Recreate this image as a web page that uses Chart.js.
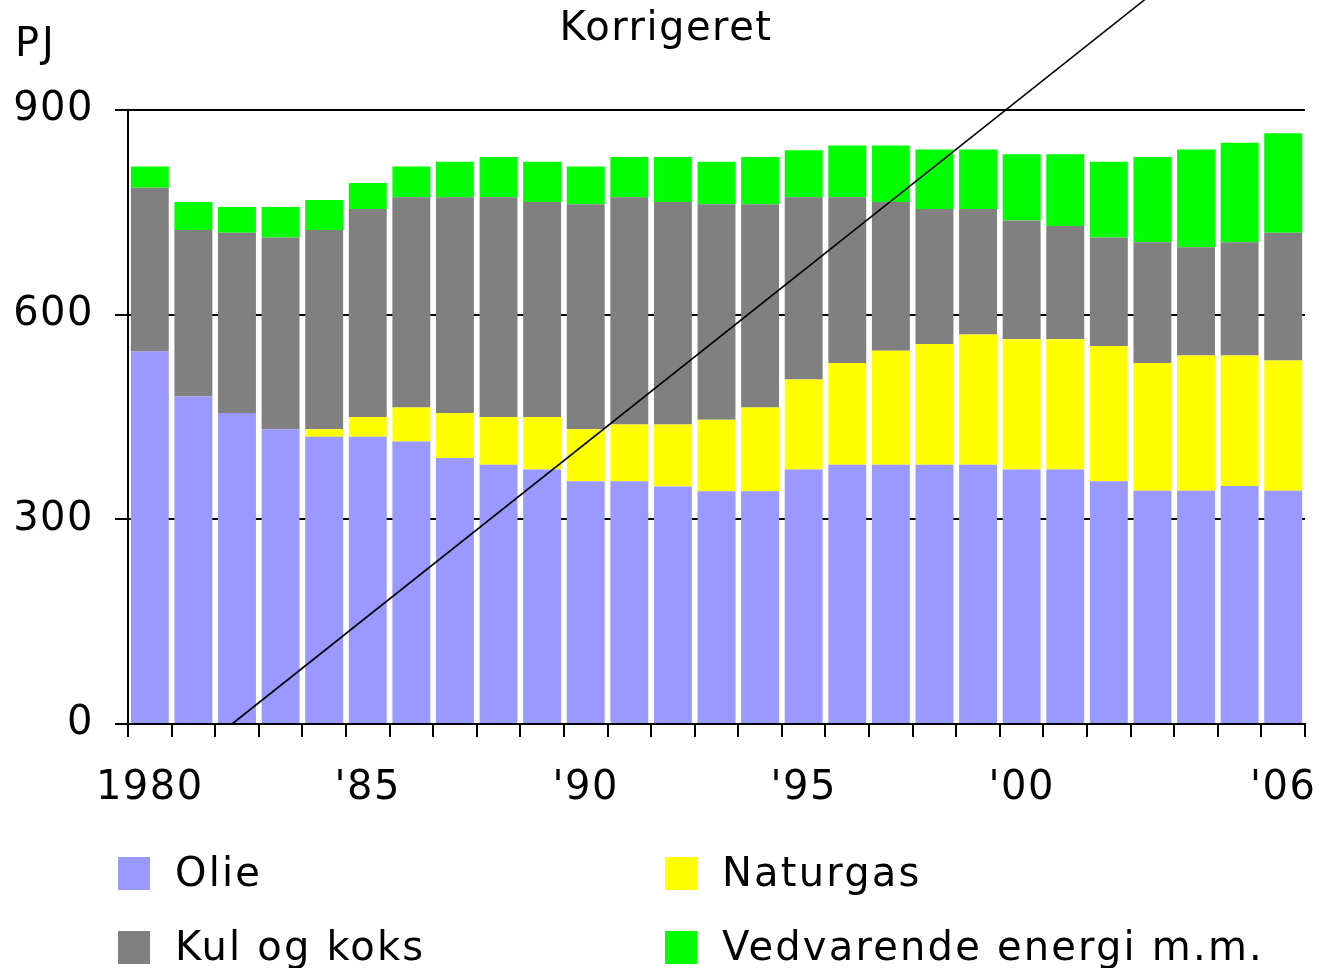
<!DOCTYPE html>
<html>
<head>
<meta charset="utf-8">
<script src="https://cdn.jsdelivr.net/npm/chart.js@4/dist/chart.umd.min.js"></script>
<style>
  html, body { margin: 0; padding: 0; background: #fff; }
  #wrap { position: relative; width: 1321px; height: 968px; overflow: hidden; }
  #c { position: absolute; left: 0; top: 0; }
  .txt { position: absolute; font-family: "DejaVu Sans", sans-serif; font-size: 40px; line-height: 40px; letter-spacing: 1.5px; color: #000; white-space: nowrap; }
  .lg { letter-spacing: 2.2px; }
  .box { position: absolute; width: 32px; height: 33px; }
</style>
</head>
<body>
<div id="wrap">
  <canvas id="c" width="1321" height="968"></canvas>
  <div class="txt" style="left:15px; top:22px; letter-spacing:3px;">PJ</div>
  <div id="legend"></div>
</div>
<script>
// ---- data ----
const years = [1980,1981,1982,1983,1984,1985,1986,1987,1988,1989,1990,1991,1992,1993,1994,1995,1996,1997,1998,1999,2000,2001,2002,2003,2004,2005,2006];
const xTickLabels = ['1980','','','','',"'85",'','','','',"'90",'','','','',"'95",'','','','',"'00",'','','','','',"'06"];
const yTicks = [0, 300, 600, 900];

const olie      = [546,480,456,432,421,421,414,390,380,373,356,356,348,341,341,373,380,380,380,380,373,373,356,342,342,349,342];
const naturgas  = [0,0,0,0,11,29,50,66,70,77,76,83,91,105,123,132,149,167,177,191,191,191,198,187,198,191,191];
const kulOgKoks = [240,244,264,281,292,305,308,316,322,315,330,333,326,316,298,267,243,218,198,184,174,166,159,177,159,166,187];
const vedvarende= [31,41,38,45,44,38,45,52,59,59,55,59,66,62,69,69,76,83,87,87,97,105,111,125,143,146,146];

// diagonal line drawn across the chart
const lineYears  = [1981.885, 2002.83];
const lineValues = [0, 1062];

const seriesNames  = ['Olie','Naturgas','Kul og koks','Vedvarende energi m.m.'];
const seriesColors = ['#9999ff','#ffff00','#808080','#00ff00'];
const seriesData   = [olie, naturgas, kulOgKoks, vedvarende];

// ---- legend (HTML) ----
const legendPos = [
  {name:'Olie', color:'#9999ff', left:118, top:852},
  {name:'Kul og koks', color:'#808080', left:118, top:926},
  {name:'Naturgas', color:'#ffff00', left:665, top:852},
  {name:'Vedvarende energi m.m.', color:'#00ff00', left:665, top:926}
];
const lg = document.getElementById('legend');
legendPos.forEach(it => {
  const b = document.createElement('div');
  b.className = 'box';
  b.style.left = it.left + 'px';
  b.style.top = (it.top + 5) + 'px';
  b.style.background = it.color;
  lg.appendChild(b);
  const t = document.createElement('div');
  t.className = 'txt lg';
  t.style.left = (it.left + 57) + 'px';
  t.style.top = it.top + 'px';
  t.textContent = it.name;
  lg.appendChild(t);
});

// ---- chart ----
const FONT = {family: '"DejaVu Sans", sans-serif', size: 40, weight: 'normal', lineHeight: 1.2};

const datasets = seriesData.map((d, i) => ({
  type: 'bar',
  label: seriesNames[i],
  data: d,
  backgroundColor: seriesColors[i],
  borderWidth: 0,
  barPercentage: 0.87,
  categoryPercentage: 1.0,
  grouped: false,
  stack: 'energy',
  xAxisID: 'x',
  yAxisID: 'y',
  order: 2
}));
datasets.push({
  type: 'scatter',
  label: 'line',
  data: lineYears.map((x, i) => ({x: x, y: lineValues[i]})),
  showLine: true,
  borderColor: '#000',
  borderWidth: 1.6,
  pointRadius: 0,
  clip: false,
  xAxisID: 'x2',
  yAxisID: 'y',
  order: 1
});

const letterSpacingPlugin = {
  id: 'ls',
  afterLayout(chart) {
    const t = chart.titleBlock;
    if (t) { t.left += 6; t.right += 6; }
  },
  beforeDraw(chart) { try { chart.ctx.letterSpacing = '1.5px'; } catch (e) {} }
};

new Chart(document.getElementById('c'), {
  type: 'bar',
  data: { labels: years.map(String), datasets: datasets },
  options: {
    responsive: false,
    animation: false,
    devicePixelRatio: 1,
    layout: { padding: { left: 15, right: 16, top: 0, bottom: 127 } },
    plugins: {
      legend: { display: false },
      tooltip: { enabled: false },
      title: {
        display: true,
        text: 'Korrigeret',
        color: '#000',
        font: FONT,
        padding: { top: 6, bottom: 56 }
      }
    },
    scales: {
      x: {
        type: 'category',
        stacked: true,
        offset: true,
        afterFit: (s) => { s.paddingLeft = 0; s.paddingRight = 0; },
        grid: { display: true, offset: true, drawOnChartArea: false, drawTicks: true, tickLength: 13, color: '#000', lineWidth: 2 },
        border: { display: true, color: '#000', width: 2 },
        ticks: {
          autoSkip: false, maxRotation: 0, minRotation: 0, padding: 28,
          color: '#000', font: FONT,
          callback: (v, i) => xTickLabels[i]
        }
      },
      x2: {
        type: 'linear',
        display: false,
        position: 'bottom',
        min: years[0] - 0.5,
        max: years[years.length - 1] + 0.5,
        offset: false
      },
      y: {
        stacked: true,
        min: yTicks[0],
        max: yTicks[yTicks.length - 1],
        afterFit: (s) => { s.width = 113; s.paddingTop = 0; s.paddingBottom = 0; },
        afterBuildTicks: (s) => { s.ticks = yTicks.map(v => ({value: v})); },
        grid: { display: true, drawOnChartArea: true, drawTicks: true, tickLength: 13, color: '#000', lineWidth: 2 },
        border: { display: true, color: '#000', width: 2 },
        ticks: { padding: 21, color: '#000', font: FONT }
      }
    }
  },
  plugins: [letterSpacingPlugin]
});
</script>
</body>
</html>
